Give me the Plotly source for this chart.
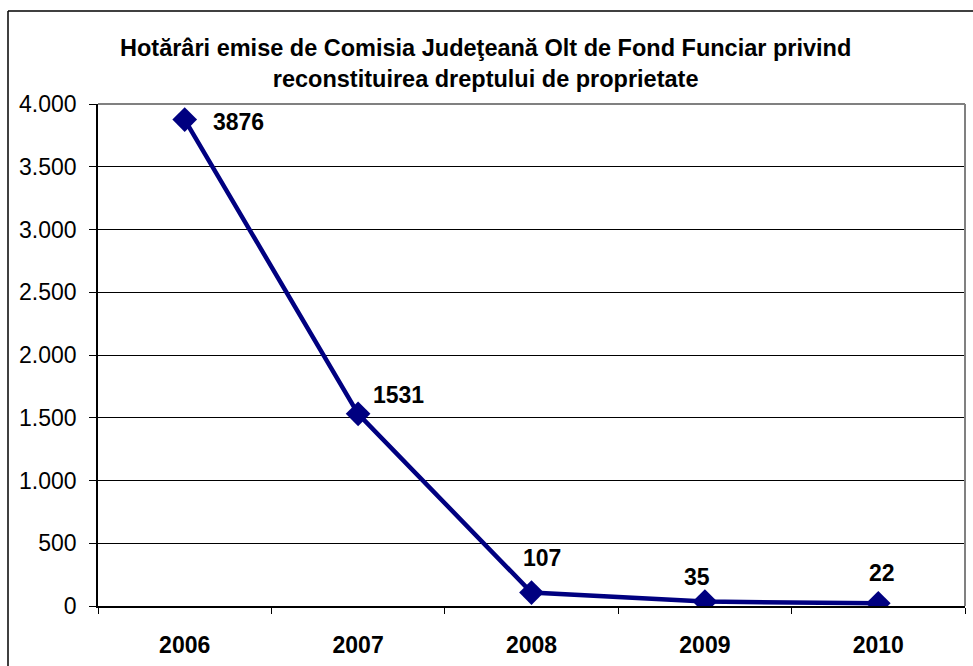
import plotly.graph_objects as go

years = ["2006", "2007", "2008", "2009", "2010"]
values = [3876, 1531, 107, 35, 22]
y_ticks = [0, 500, 1000, 1500, 2000, 2500, 3000, 3500, 4000]

title_text = "Hotărâri emise de Comisia Judeţeană Olt de Fond Funciar privind<br>reconstituirea dreptului de proprietate"

# label offsets (pixels) relative to each point
label_dx = [54, 40, 10, -8, 4]
label_dy = [-2, 19, 35, 25, 30]

navy = "#000080"
font_family = "Liberation Sans, Arial, sans-serif"

L, R, T, B = 98, 8, 104, 60
W, H = 973, 666
pw, ph = W - L - R, H - T - B

fig = go.Figure()
fig.add_trace(go.Scatter(
    x=years, y=values, mode="lines+markers",
    line=dict(color=navy, width=4.5),
    marker=dict(symbol="diamond", size=19, color=navy),
    hoverinfo="x+y", showlegend=False,
))

annotations = []
for i, (v, dx, dy) in enumerate(zip(values, label_dx, label_dy)):
    annotations.append(dict(
        x=i, y=v, xref="x", yref="y", text=f"<b>{v}</b>", showarrow=False,
        xanchor="center", yanchor="middle", xshift=dx, yshift=dy,
        font=dict(family=font_family, size=23, color="black"),
    ))

annotations.append(dict(
    x=(485 - L) / pw, y=1 + (T - 63) / ph, xref="paper", yref="paper",
    text="<b>" + title_text + "</b>",
    showarrow=False, xanchor="center", yanchor="middle",
    font=dict(family=font_family, size=23.5, color="black"),
))

shapes = [
    # plot area top and right borders (gray)
    dict(type="line", xref="paper", yref="paper", x0=0, x1=1, y0=1, y1=1,
         line=dict(color="#808080", width=2), layer="above"),
    dict(type="line", xref="paper", yref="paper", x0=1, x1=1, y0=0, y1=1,
         line=dict(color="#808080", width=2), layer="above"),
    # outer chart border (top and left visible)
    dict(type="line", xref="paper", yref="paper",
         x0=(8 - L) / pw, x1=(W + 5 - L) / pw,
         y0=1 + (T - 11) / ph, y1=1 + (T - 11) / ph,
         line=dict(color="black", width=1.5)),
    dict(type="line", xref="paper", yref="paper",
         x0=(8 - L) / pw, x1=(8 - L) / pw,
         y0=1 + (T - 11) / ph, y1=-(B + 5) / ph,
         line=dict(color="black", width=1.5)),
]

fig.update_layout(
    width=W, height=H,
    margin=dict(l=L, r=R, t=T, b=B),
    paper_bgcolor="white", plot_bgcolor="white",
    separators=",.",
    annotations=annotations,
    shapes=shapes,
    font=dict(family=font_family, color="black"),
)

fig.update_xaxes(
    type="category", tickson="boundaries", ticks="outside", ticklen=6,
    tickcolor="black", showline=True, linecolor="black", linewidth=1.5,
    showgrid=False, tickfont=dict(family=font_family, size=23, color="black"),
    tickprefix="<b>", ticksuffix="</b>", ticklabelstandoff=18,
    range=[-0.5, 4.5], fixedrange=True,
)
fig.update_yaxes(
    range=[0, 4000], tickvals=y_ticks, tickformat=",d", ticks="outside", ticklen=7,
    tickcolor="black", showline=True, linecolor="black", linewidth=1.5,
    showgrid=True, gridcolor="black", gridwidth=1, zeroline=False,
    tickfont=dict(family=font_family, size=23, color="black"),
    ticklabelstandoff=8, fixedrange=True,
)

fig.write_html(
    "out.html",
    config={"displayModeBar": False},
    post_script="document.body.style.margin='0';document.body.style.padding='0';",
)
